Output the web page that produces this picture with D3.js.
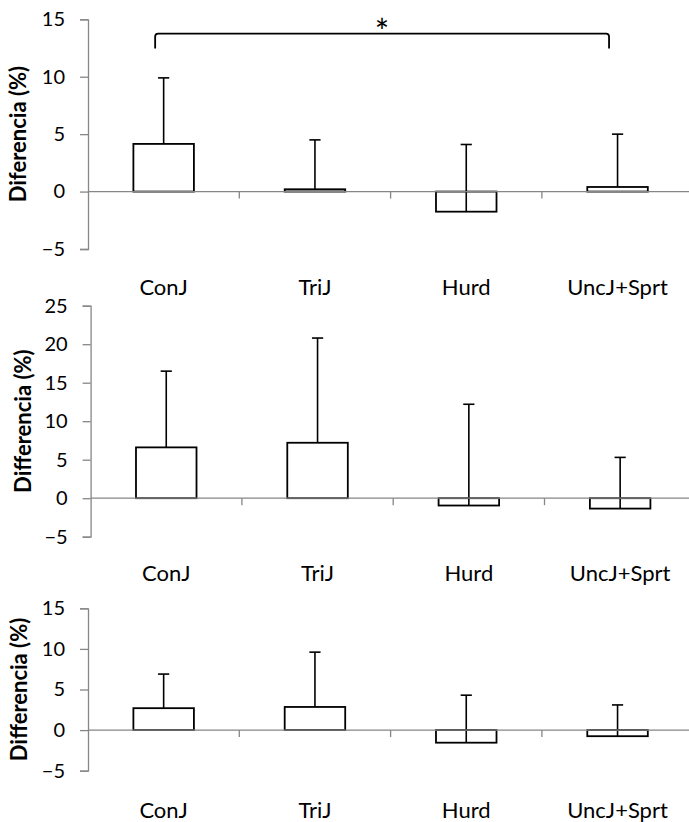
<!DOCTYPE html>
<html><head><meta charset="utf-8">
<script src="https://cdn.jsdelivr.net/npm/d3@7"></script>
<style>
html,body{margin:0;padding:0;background:#fff;}
svg{display:block;}
</style></head>
<body>
<svg id="c" width="689" height="822"></svg>
<script>
// ---- data ----
const categories = ["ConJ", "TriJ", "Hurd", "UncJ+Sprt"];
const meansA = [4.15, 0.2, -1.75, 0.4];
const errA   = [5.75, 4.3, 5.85, 4.6];
const meansB = [6.6, 7.2, -0.95, -1.35];
const errB   = [9.9, 13.6, 13.15, 6.65];
const meansC = [2.7, 2.85, -1.55, -0.75];
const errC   = [4.2, 6.75, 5.85, 3.85];
const ticksA = [-5, 0, 5, 10, 15];
const ticksB = [-5, 0, 5, 10, 15, 20, 25];
const ticksC = [-5, 0, 5, 10, 15];
const titles = ["Diferencia (%)", "Differencia (%)", "Differencia (%)"];
const sigLabel = "*";

const FONT = "Lato, 'Open Sans', sans-serif";
const svg = d3.select("#c");

const panels = [
  {means: meansA, err: errA, ticks: ticksA, title: titles[0], x0: 88,   top: 19.3,  bottom: 249,   labelY: 295, titleX: 26, sig: [0, 3]},
  {means: meansB, err: errB, ticks: ticksB, title: titles[1], x0: 90.6, top: 305.7, bottom: 536.7, labelY: 581, titleX: 31},
  {means: meansC, err: errC, ticks: ticksC, title: titles[2], x0: 88,   top: 608.3, bottom: 770.7, labelY: 818, titleX: 26.5}
];

panels.forEach(p => {
  const g = svg.append("g");
  const y = d3.scaleLinear().domain(d3.extent(p.ticks)).range([p.bottom, p.top]);
  const x = d3.scaleBand().domain(categories).range([p.x0, p.x0 + 605.2]).padding(0);
  const bw = x.bandwidth();
  const barW = bw * 0.4;

  // bars
  g.selectAll("rect.bar").data(p.means).join("rect")
    .attr("x", (d, i) => x(categories[i]) + (bw - barW) / 2)
    .attr("y", d => y(Math.max(0, d)))
    .attr("width", barW)
    .attr("height", d => Math.abs(y(d) - y(0)))
    .attr("fill", "#fff").attr("stroke", "#000").attr("stroke-width", 1.8);

  // error bars (upper only)
  const cx = i => x(categories[i]) + bw / 2;
  g.selectAll("line.err").data(p.means).join("line")
    .attr("x1", (d, i) => cx(i)).attr("x2", (d, i) => cx(i))
    .attr("y1", d => y(d)).attr("y2", (d, i) => y(d + p.err[i]))
    .attr("stroke", "#000").attr("stroke-width", 1.6);
  g.selectAll("line.cap").data(p.means).join("line")
    .attr("x1", (d, i) => cx(i) - 5.6).attr("x2", (d, i) => cx(i) + 5.6)
    .attr("y1", (d, i) => y(d + p.err[i])).attr("y2", (d, i) => y(d + p.err[i]))
    .attr("stroke", "#000").attr("stroke-width", 1.6);

  // x axis line at 0 with category boundary ticks
  const xa = g.append("g").attr("stroke", "#868686").attr("stroke-width", 1.3);
  xa.append("line").attr("x1", p.x0).attr("x2", p.x0 + 605.2).attr("y1", y(0)).attr("y2", y(0));
  categories.slice(1).forEach(c => {
    xa.append("line").attr("x1", x(c)).attr("x2", x(c)).attr("y1", y(0)).attr("y2", y(0) + 7);
  });

  // y axis
  const ya = g.append("g").attr("transform", `translate(${p.x0},0)`)
    .call(d3.axisLeft(y).tickValues(p.ticks).tickSize(8).tickSizeOuter(8).tickPadding(15).tickFormat(d3.format("d")));
  ya.selectAll("path,line").attr("stroke", "#868686").attr("stroke-width", 1.3);
  ya.selectAll("text").attr("font-family", FONT).attr("font-size", 20).attr("fill", "#000");

  // category labels
  g.selectAll("text.cat").data(categories).join("text")
    .attr("x", c => x(c) + bw / 2).attr("y", p.labelY)
    .attr("text-anchor", "middle").attr("font-family", FONT).attr("font-size", 22).attr("fill", "#000")
    .text(c => c);

  // y title
  g.append("text")
    .attr("transform", `translate(${p.titleX},${(p.top + p.bottom) / 2}) rotate(-90)`)
    .attr("text-anchor", "middle").attr("font-family", FONT).attr("font-weight", "bold")
    .attr("font-size", 22).attr("fill", "#000").text(p.title);

  // significance bracket
  if (p.sig) {
    const xa1 = x(categories[p.sig[0]]) + bw * 0.5 - 8.5;
    const xa2 = x(categories[p.sig[1]]) + bw * 0.5 - 8.5;
    const yb = 33.7, yEnd = 48.5, r = 3;
    g.append("path")
      .attr("d", `M${xa1},${yEnd} L${xa1},${yb + r} Q${xa1},${yb} ${xa1 + r},${yb} L${xa2 - r},${yb} Q${xa2},${yb} ${xa2},${yb + r} L${xa2},${yEnd}`)
      .attr("fill", "none").attr("stroke", "#000").attr("stroke-width", 1.8);
    g.append("text").attr("x", (xa1 + xa2) / 2).attr("y", 44)
      .attr("text-anchor", "middle").attr("font-family", FONT).attr("font-size", 34).attr("fill", "#000")
      .text(sigLabel);
  }
});
</script>
</body></html>
